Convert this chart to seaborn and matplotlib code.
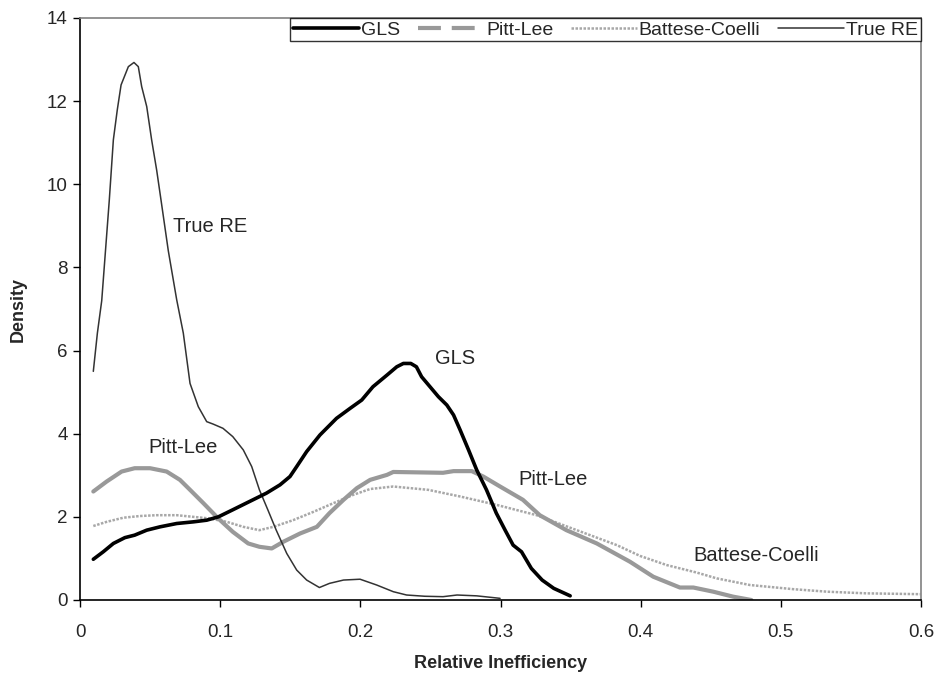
import matplotlib
matplotlib.use("Agg")
import matplotlib.pyplot as plt
from matplotlib.lines import Line2D
import seaborn as sns
import pandas as pd

sns.set_theme(style="white")
plt.rcParams['font.family'] = ['Liberation Sans', 'DejaVu Sans']

# ---- data ----
gls_x = [0.0095, 0.0166, 0.0238, 0.032, 0.039, 0.0476, 0.0571, 0.069, 0.0809, 0.0904, 0.0987,
         0.109, 0.121, 0.133, 0.1427, 0.1498, 0.1546, 0.1617, 0.1712, 0.183, 0.1927, 0.201,
         0.209, 0.219, 0.226, 0.2307, 0.236, 0.240, 0.2437, 0.2497, 0.2557, 0.2617, 0.2665,
         0.2712, 0.2772, 0.283, 0.290, 0.297, 0.3033, 0.309, 0.315, 0.322, 0.3297, 0.338, 0.3497]
gls_y = [0.98, 1.16, 1.36, 1.50, 1.56, 1.68, 1.76, 1.84, 1.88, 1.92, 2.00,
         2.17, 2.37, 2.57, 2.77, 2.97, 3.21, 3.57, 3.97, 4.37, 4.61, 4.81,
         5.13, 5.41, 5.61, 5.69, 5.69, 5.61, 5.37, 5.13, 4.89, 4.69, 4.45,
         4.09, 3.61, 3.13, 2.65, 2.09, 1.68, 1.32, 1.16, 0.76, 0.48, 0.28, 0.10]

pl_x = [0.0095, 0.019, 0.0297, 0.039, 0.05, 0.0618, 0.0713, 0.0785, 0.088, 0.0987, 0.109,
        0.120, 0.128, 0.1368, 0.145, 0.157, 0.169, 0.178, 0.188, 0.1975, 0.207, 0.219,
        0.2235, 0.259, 0.2665, 0.2795, 0.2877, 0.2997, 0.316, 0.328, 0.347, 0.3687, 0.3924,
        0.409, 0.428, 0.4376, 0.4518, 0.466, 0.479]
pl_y = [2.61, 2.85, 3.09, 3.17, 3.17, 3.09, 2.89, 2.65, 2.33, 1.96, 1.64,
        1.36, 1.28, 1.24, 1.40, 1.60, 1.76, 2.09, 2.41, 2.69, 2.89, 3.01,
        3.08, 3.06, 3.10, 3.10, 2.97, 2.73, 2.41, 2.04, 1.68, 1.36, 0.92,
        0.56, 0.30, 0.30, 0.20, 0.08, 0.0]

bc_x = [0.0095, 0.019, 0.031, 0.0428, 0.0547, 0.069, 0.0809, 0.0927, 0.1047, 0.1165, 0.128,
        0.138, 0.152, 0.1665, 0.1808, 0.195, 0.207, 0.2235, 0.2484, 0.2712, 0.297, 0.3258,
        0.3544, 0.383, 0.3996, 0.4186, 0.44, 0.4543, 0.478, 0.509, 0.533, 0.561, 0.5996]
bc_y = [1.78, 1.88, 1.98, 2.02, 2.04, 2.04, 2.00, 1.96, 1.88, 1.76, 1.68,
        1.76, 1.92, 2.12, 2.33, 2.53, 2.67, 2.73, 2.65, 2.49, 2.29, 2.04,
        1.68, 1.32, 1.06, 0.84, 0.66, 0.52, 0.36, 0.26, 0.20, 0.16, 0.14]

re_x = [0.0095, 0.0124, 0.0155, 0.0209, 0.0238, 0.0266, 0.0293, 0.0345, 0.0385, 0.0416,
        0.044, 0.0476, 0.0511, 0.0547, 0.0578, 0.063, 0.069, 0.0737, 0.0785, 0.0844, 0.0904,
        0.0951, 0.102, 0.109, 0.1165, 0.1225, 0.128, 0.134, 0.140, 0.1475, 0.1546, 0.1617,
        0.1708, 0.178, 0.188, 0.1998, 0.2117, 0.2235, 0.233, 0.246, 0.259, 0.269, 0.283, 0.2997]
re_y = [5.5, 6.42, 7.2, 9.62, 11.07, 11.79, 12.39, 12.83, 12.93, 12.83,
        12.35, 11.87, 11.07, 10.34, 9.62, 8.4, 7.22, 6.42, 5.21, 4.65, 4.29,
        4.23, 4.13, 3.93, 3.61, 3.21, 2.65, 2.17, 1.68, 1.12, 0.72, 0.48,
        0.30, 0.40, 0.48, 0.50, 0.36, 0.20, 0.12, 0.09, 0.08, 0.12, 0.10, 0.04]

series_names = ["GLS", "Pitt-Lee", "Battese-Coelli", "True RE"]
x_ticks = [0, 0.1, 0.2, 0.3, 0.4, 0.5, 0.6]
y_ticks = [0, 2, 4, 6, 8, 10, 12, 14]

# ---- figure ----
fig = plt.figure(figsize=(9.39, 6.8), dpi=100)
ax = fig.add_axes([80/939, 1-600/680, (921-80)/939, (600-18)/680])

styles = {
    "GLS": dict(color="#000000", lw=2.6, ls="-"),
    "Pitt-Lee": dict(color="#999999", lw=3.0, ls="-"),
    "Battese-Coelli": dict(color="#a8a8a8", lw=1.8, ls=(0, (1, 0.6))),
    "True RE": dict(color="#333333", lw=1.1, ls="-"),
}
data = {"GLS": (gls_x, gls_y), "Pitt-Lee": (pl_x, pl_y),
        "Battese-Coelli": (bc_x, bc_y), "True RE": (re_x, re_y)}

for name in ["Battese-Coelli", "Pitt-Lee", "True RE", "GLS"]:
    xs, ys = data[name]
    df = pd.DataFrame({"x": xs, "y": ys})
    st = styles[name]
    sns.lineplot(data=df, x="x", y="y", ax=ax, sort=False, estimator=None,
                 color=st["color"], linewidth=st["lw"], linestyle=st["ls"])

ax.set_xlim(0, 0.6)
ax.set_ylim(0, 14)
ax.set_xticks(x_ticks)
ax.set_xticklabels([("%g" % t) for t in x_ticks])
ax.set_yticks(y_ticks)
ax.tick_params(axis="both", direction="out", length=5, width=1, color="black",
               labelsize=13.5, bottom=True, left=True)
ax.tick_params(axis="x", pad=12)
ax.tick_params(axis="y", pad=4)

for s in ["left", "bottom"]:
    ax.spines[s].set_color("black")
    ax.spines[s].set_linewidth(1.2)
for s in ["top", "right"]:
    ax.spines[s].set_color("#808080")
    ax.spines[s].set_linewidth(1.2)

ax.set_xlabel("Relative Inefficiency", fontsize=13, fontweight="bold", labelpad=10)
ax.set_ylabel("Density", fontsize=13, fontweight="bold", labelpad=14)

# annotations
fs = 14.5
ax.text(0.0928, 8.98, "True RE", fontsize=fs, ha="center", va="center")
ax.text(0.2675, 5.82, "GLS", fontsize=fs, ha="center", va="center")
ax.text(0.0485, 3.68, "Pitt-Lee", fontsize=fs, ha="left", va="center")
ax.text(0.3376, 2.91, "Pitt-Lee", fontsize=fs, ha="center", va="center")
ax.text(0.4825, 1.06, "Battese-Coelli", fontsize=fs, ha="center", va="center")

handles = [
    Line2D([], [], color="#000000", lw=2.6),
    Line2D([], [], color="#999999", lw=3.0, ls=(0, (5.5, 2.6)), dash_capstyle="butt"),
    Line2D([], [], color="#a8a8a8", lw=1.8, ls=(0, (1, 0.6))),
    Line2D([], [], color="#333333", lw=1.1),
]
leg = ax.legend(handles, series_names, loc="upper right", bbox_to_anchor=(1.0, 1.0),
                ncol=4, fontsize=14, frameon=True, fancybox=False, borderaxespad=0,
                handlelength=3.4, handletextpad=0.1, columnspacing=0.9,
                borderpad=0.15)
leg.get_frame().set_edgecolor("black")
leg.get_frame().set_linewidth(1.0)

fig.savefig("out.png", dpi=100)
